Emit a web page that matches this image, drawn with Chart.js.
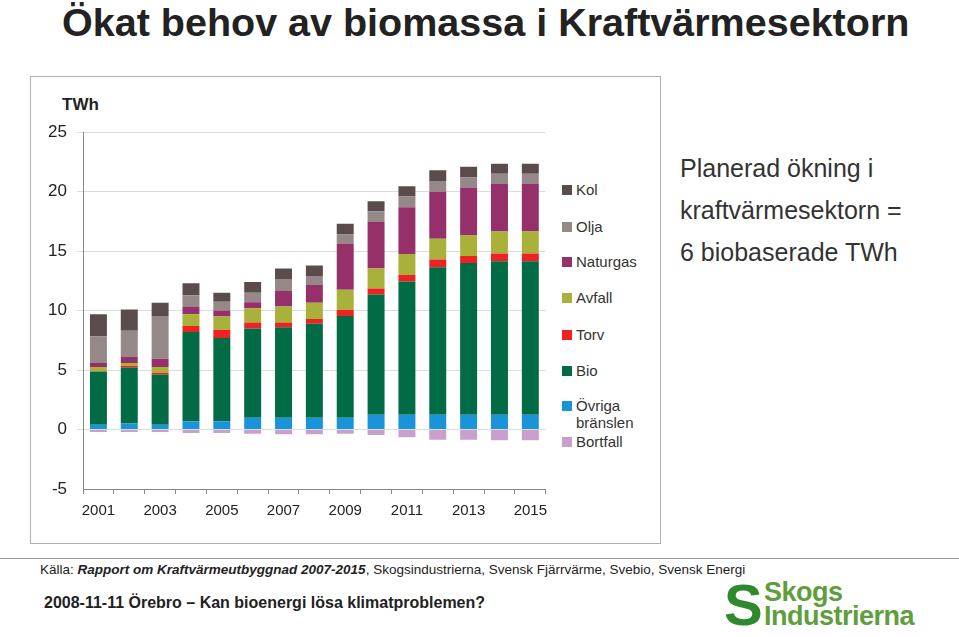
<!DOCTYPE html>
<html>
<head>
<meta charset="utf-8">
<script src="https://cdn.jsdelivr.net/npm/chart.js@4"></script>
<style>
body { margin: 0; width: 959px; height: 637px; background: #fff; font-family: "Liberation Sans", Arial, sans-serif; position: relative; overflow: hidden; }
.abs { position: absolute; }
#title { left: 62px; top: 0px; font-size: 39.5px; font-weight: bold; color: #222; }
#frame { left: 30px; top: 76px; width: 629px; height: 466px; border: 1px solid #b0b0b0; }
#unit { left: 62px; top: 95px; font-size: 17px; font-weight: bold; color: #222; }
#wrap { left: 20px; top: 112px; width: 535px; height: 417px; }
.leg { left: 562px; font-size: 15px; color: #333; line-height: 17px; }
.leg span { position: absolute; left: 0; top: 4px; width: 10px; height: 10px; }
.leg div { margin-left: 14px; }
#side { left: 680px; top: 147px; font-size: 25px; color: #333; line-height: 42px; }
#line { left: 0; top: 558px; width: 959px; border-top: 1px solid #999; }
#src { left: 40px; top: 562px; font-size: 13.5px; color: #222; }
#foot { left: 44px; top: 594px; font-size: 16px; font-weight: bold; color: #222; }
#logo { left: 764px; top: 580px; font-size: 27px; color: #5e9e3c; line-height: 24px; font-weight: bold; letter-spacing: -0.5px; }
#s { left: 724px; top: 578px; font-size: 58px; color: #2f8a2f; font-weight: bold; line-height: 54px; }
</style>
</head>
<body>
<div id="title" class="abs">Ökat behov av biomassa i Kraftvärmesektorn</div>
<div id="frame" class="abs"></div>
<div id="unit" class="abs">TWh</div>
<div id="wrap" class="abs"><canvas id="c"></canvas></div>
<div id="legend"></div>
<div id="side" class="abs">Planerad ökning i<br>kraftvärmesektorn =<br>6 biobaserade TWh</div>
<div id="line" class="abs"></div>
<div id="src" class="abs">Källa: <b><i>Rapport om Kraftvärmeutbyggnad 2007-2015</i></b>, Skogsindustrierna, Svensk Fjärrvärme, Svebio, Svensk Energi</div>
<div id="foot" class="abs">2008-11-11 Örebro – Kan bioenergi lösa klimatproblemen?</div>
<div id="s" class="abs">S</div>
<div id="logo" class="abs">Skogs<br>Industrierna</div>
<script>
const years = ["2001","2002","2003","2004","2005","2006","2007","2008","2009","2010","2011","2012","2013","2014","2015"];
const ovriga = [0.4, 0.5, 0.4, 0.7, 0.7, 1.0, 1.0, 1.0, 1.0, 1.25, 1.25, 1.25, 1.25, 1.25, 1.25];
const bio = [4.45, 4.7, 4.2, 7.5, 7.0, 7.5, 7.6, 7.9, 8.55, 10.1, 11.2, 12.4, 12.75, 12.9, 12.9];
const torv = [0.05, 0.15, 0.15, 0.5, 0.7, 0.5, 0.4, 0.4, 0.5, 0.5, 0.55, 0.65, 0.6, 0.65, 0.65];
const avfall = [0.35, 0.25, 0.5, 1.0, 1.1, 1.2, 1.35, 1.35, 1.7, 1.7, 1.75, 1.75, 1.75, 1.85, 1.85];
const naturgas = [0.35, 0.5, 0.7, 0.6, 0.5, 0.5, 1.3, 1.5, 3.9, 3.9, 3.95, 3.95, 4.0, 4.0, 4.0];
const olja = [2.25, 2.2, 3.6, 1.0, 0.75, 0.8, 1.0, 0.75, 0.75, 0.9, 0.9, 0.9, 0.85, 0.85, 0.85];
const kol = [1.85, 1.8, 1.1, 1.0, 0.75, 0.9, 0.9, 0.9, 0.9, 0.85, 0.85, 0.9, 0.9, 0.85, 0.85];
const bortfall = [-0.2, -0.2, -0.2, -0.3, -0.3, -0.35, -0.4, -0.4, -0.35, -0.45, -0.65, -0.85, -0.85, -0.9, -0.9];

const series = [
  { label: "Övriga bränslen", data: ovriga, color: "#1a94d8" },
  { label: "Bio", data: bio, color: "#006b45" },
  { label: "Torv", data: torv, color: "#ee2222" },
  { label: "Avfall", data: avfall, color: "#a9b13b" },
  { label: "Naturgas", data: naturgas, color: "#96306a" },
  { label: "Olja", data: olja, color: "#948888" },
  { label: "Kol", data: kol, color: "#5a4c4c" },
  { label: "Bortfall", data: bortfall, color: "#c9a0cc" }
];

// legend as html, top to bottom
const legItems = [
  ["Kol", "#5a4c4c", 181], ["Olja", "#948888", 218], ["Naturgas", "#96306a", 253],
  ["Avfall", "#a9b13b", 289], ["Torv", "#ee2222", 326], ["Bio", "#006b45", 362],
  ["Övriga<br>bränslen", "#1a94d8", 397], ["Bortfall", "#c9a0cc", 433]
];
document.getElementById("legend").innerHTML = legItems.map(l =>
  `<div class="abs leg" style="top:${l[2]}px"><span style="background:${l[1]}"></span><div>${l[0]}</div></div>`).join("");

new Chart(document.getElementById("c"), {
  type: "bar",
  data: {
    labels: years,
    datasets: series.map(s => ({
      label: s.label, data: s.data, backgroundColor: s.color,
      barPercentage: 0.55, categoryPercentage: 1.0, stack: "a"
    }))
  },
  options: {
    responsive: true,
    maintainAspectRatio: false,
    animation: false,
    layout: { padding: { top: 4, right: 0 } },
    plugins: { legend: { display: false }, tooltip: { enabled: false } },
    scales: {
      x: {
        stacked: true,
        afterFit: a => { a.height = 40; },
        grid: { display: true, drawOnChartArea: false, offset: true, tickLength: 5, color: "#888" },
        border: { color: "#888" },
        ticks: {
          autoSkip: false, maxRotation: 0, color: "#222", padding: 8,
          font: { size: 15, family: "Liberation Sans" },
          callback: function (v, i) { return i % 2 === 0 ? this.getLabelForValue(v) : ""; }
        }
      },
      y: {
        stacked: true, min: -5, max: 25,
        afterFit: a => { a.width = 63; },
        grid: { color: ctx => ctx.tick.value === -5 ? "rgba(0,0,0,0)" : "#dcdcdc", tickLength: 6 },
        border: { color: "#888" },
        ticks: { stepSize: 5, color: "#222", padding: 10, font: { size: 17, family: "Liberation Sans" } }
      }
    }
  }
});
</script>
</body>
</html>
